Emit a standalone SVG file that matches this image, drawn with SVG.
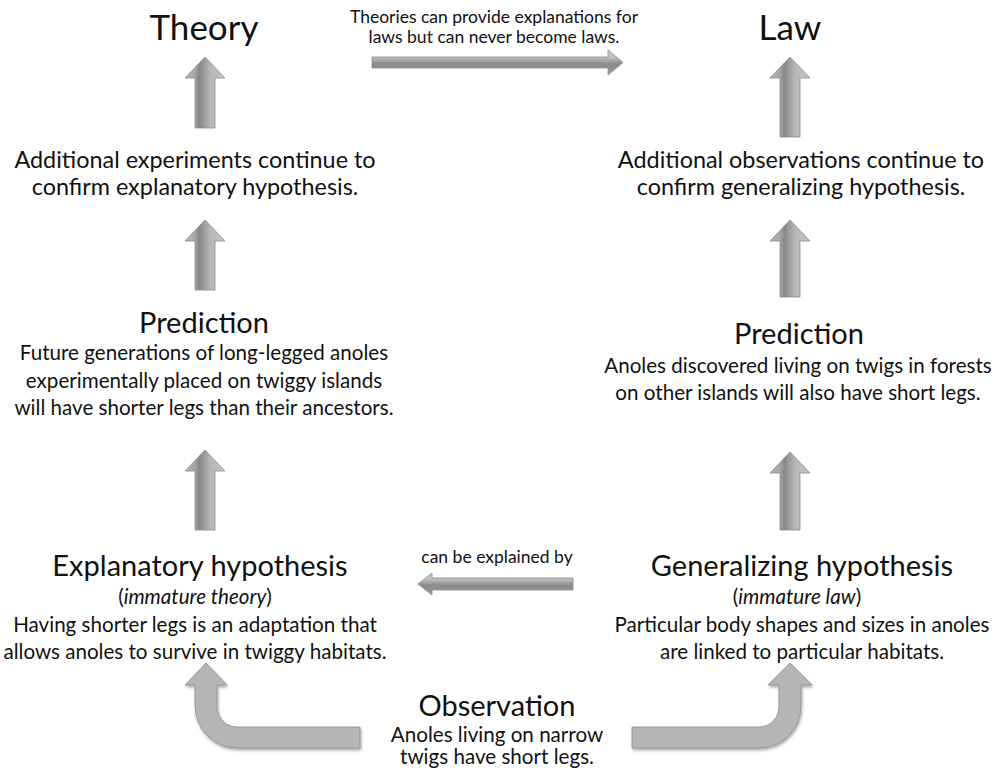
<svg xmlns="http://www.w3.org/2000/svg" width="1001" height="774" viewBox="0 0 1001 774">
<style>
text{font-family:Lato,"Liberation Sans",sans-serif;fill:#111;text-anchor:middle}
.title{font-size:35px}
.head{font-size:29px}
.mid{font-size:23.4px}
.body{font-size:20.6px}
.small{font-size:17.5px}
.va{fill:url(#gv);stroke:#8a8a8a;stroke-width:0.8}
.ha{fill:url(#gh);stroke:#8a8a8a;stroke-width:0.8}
.ba{fill:#b5b5b5;stroke:#8e8e8e;stroke-width:0.8;filter:url(#sh)}
</style>
<defs>
<linearGradient id="gv" x1="0" y1="0" x2="1" y2="0">
<stop offset="0" stop-color="#b8b8b8"/>
<stop offset="0.25" stop-color="#a6a6a6"/>
<stop offset="0.36" stop-color="#868686"/>
<stop offset="0.62" stop-color="#b6b6b6"/>
<stop offset="0.75" stop-color="#bcbcbc"/>
<stop offset="1" stop-color="#c4c4c4"/>
</linearGradient>
<linearGradient id="gh" x1="0" y1="0" x2="0" y2="1">
<stop offset="0" stop-color="#cfcfcf"/>
<stop offset="0.3" stop-color="#bdbdbd"/>
<stop offset="0.55" stop-color="#8c8c8c"/>
<stop offset="0.72" stop-color="#8f8f8f"/>
<stop offset="1" stop-color="#a0a0a0"/>
</linearGradient>
<filter id="sh" x="-10%" y="-10%" width="130%" height="130%">
<feDropShadow dx="1" dy="2" stdDeviation="1.5" flood-color="#000" flood-opacity="0.35"/>
</filter>
</defs>

<g id="connectors">
<path class="va" d="M195 128 L195 78 L185 78 L205 57 L225 78 L215 78 L215 128 Z"/>
<path class="va" d="M195 290 L195 241 L185 241 L205 220 L225 241 L215 241 L215 290 Z"/>
<path class="va" d="M195 530 L195 471 L185 471 L205 450 L225 471 L215 471 L215 530 Z"/>
<path class="va" d="M780 137 L780 78 L770 78 L790 57 L810 78 L800 78 L800 137 Z"/>
<path class="va" d="M780 297 L780 241 L770 241 L790 220 L810 241 L800 241 L800 297 Z"/>
<path class="va" d="M780 530 L780 473 L770 473 L790 452 L810 473 L800 473 L800 530 Z"/>
<path class="ha" d="M372 57 L608 57 L608 50 L623 62.5 L608 75 L608 68 L372 68 Z"/>
<path class="ha" d="M573 578 L432 578 L432 573 L418 584 L432 595 L432 590 L573 590 Z"/>
<path class="ba" d="M360 727 L237 727 A20 20 0 0 1 217 707 L217 685 L227 685 L206 663 L185 685 L195 685 L195 706 A42 42 0 0 0 237 748 L360 748 Z"/>
<path class="ba" d="M632 727 L759 727 A20 20 0 0 0 779 707 L779 685 L768 685 L790 663 L812 685 L801 685 L801 706 A42 42 0 0 1 759 748 L632 748 Z"/>
</g>

<g id="theory"><text class="title" x="204" y="40">Theory</text></g>
<g id="law"><text class="title" x="790" y="40">Law</text></g>
<g id="label-top">
<text class="small" x="494" y="23">Theories can provide explanations for</text>
<text class="small" x="494" y="43">laws but can never become laws.</text>
</g>
<g id="confirm-left">
<text class="mid" x="195" y="168">Additional experiments continue to</text>
<text class="mid" x="195" y="195">confirm explanatory hypothesis.</text>
</g>
<g id="confirm-right">
<text class="mid" x="801" y="168">Additional observations continue to</text>
<text class="mid" x="801" y="195">confirm generalizing hypothesis.</text>
</g>
<g id="prediction-left">
<text class="head" x="204" y="333">Prediction</text>
<text class="body" x="204" y="360">Future generations of long-legged anoles</text>
<text class="body" x="204" y="388">experimentally placed on twiggy islands</text>
<text class="body" x="204" y="415">will have shorter legs than their ancestors.</text>
</g>
<g id="prediction-right">
<text class="head" x="799" y="344">Prediction</text>
<text class="body" x="798" y="373">Anoles discovered living on twigs in forests</text>
<text class="body" x="798" y="400">on other islands will also have short legs.</text>
</g>
<g id="explanatory">
<text class="head" x="200" y="576">Explanatory hypothesis</text>
<text class="body" x="195" y="604">(<tspan font-style="italic">immature theory</tspan>)</text>
<text class="body" x="195" y="632">Having shorter legs is an adaptation that</text>
<text class="body" x="195" y="659">allows anoles to survive in twiggy habitats.</text>
</g>
<g id="label-mid"><text class="small" x="497" y="563">can be explained by</text></g>
<g id="generalizing">
<text class="head" x="802" y="576">Generalizing hypothesis</text>
<text class="body" x="797" y="604">(<tspan font-style="italic">immature law</tspan>)</text>
<text class="body" x="802" y="632">Particular body shapes and sizes in anoles</text>
<text class="body" x="802" y="659">are linked to particular habitats.</text>
</g>
<g id="observation">
<text class="head" x="497" y="716">Observation</text>
<text class="body" x="497" y="742">Anoles living on narrow</text>
<text class="body" x="497" y="764">twigs have short legs.</text>
</g>
</svg>
